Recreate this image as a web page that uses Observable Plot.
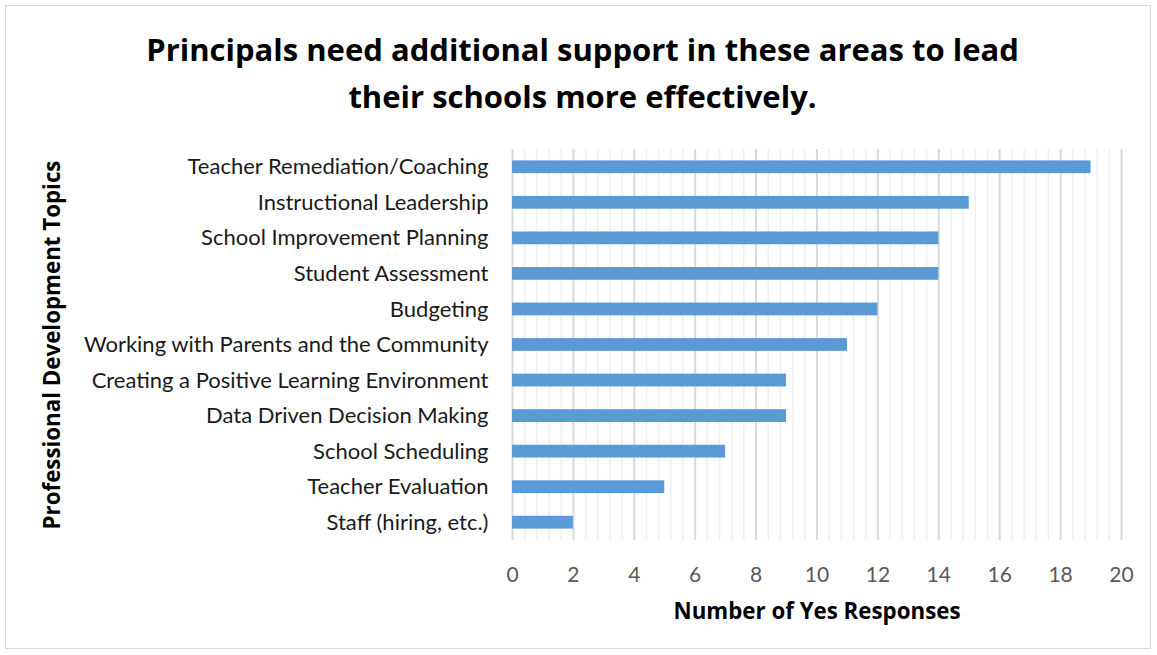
<!DOCTYPE html>
<html>
<head>
<meta charset="utf-8">
<script src="https://cdn.jsdelivr.net/npm/d3@7"></script>
<script src="https://cdn.jsdelivr.net/npm/@observablehq/plot@0.6"></script>
<style>
  html, body { margin: 0; padding: 0; background: #fff; }
  body { width: 1157px; height: 655px; position: relative; overflow: hidden; font-family: Lato, "Open Sans", sans-serif; }
  #frame { position: absolute; left: 5px; top: 5px; width: 1146px; height: 644px; border: 1.5px solid #d9d9d9; box-sizing: border-box; }
  #title { position: absolute; left: 0; top: 26px; width: 1165px; text-align: center; font-family: "Open Sans", Lato, sans-serif; font-weight: bold; font-size: 31px; line-height: 47px; color: #000; }
  #chart { position: absolute; left: 0; top: 140px; line-height: 0; }
  #chart svg { display: block; }
</style>
</head>
<body>
<div id="frame"></div>
<div id="title">Principals need additional support in these areas to lead<br>their schools more effectively.</div>
<div id="chart"></div>
<script>
const topics = [
  "Teacher Remediation/Coaching",
  "Instructional Leadership",
  "School Improvement Planning",
  "Student Assessment",
  "Budgeting",
  "Working with Parents and the Community",
  "Creating a Positive Learning Environment",
  "Data Driven Decision Making",
  "School Scheduling",
  "Teacher Evaluation",
  "Staff (hiring, etc.)"
];
const responses = [19, 15, 14, 14, 12, 11, 9, 9, 7, 5, 2];
const xTicks = [0, 2, 4, 6, 8, 10, 12, 14, 16, 18, 20];

const data = topics.map((t, i) => ({topic: t, value: responses[i]}));
const minorTicks = d3.range(0, 50).map(i => i * 0.4).filter(v => Math.abs(v / 2 - Math.round(v / 2)) > 1e-6);

const chart = Plot.plot({
  width: 1157,
  height: 500,
  marginLeft: 512,
  marginRight: 36,
  marginTop: 9,
  marginBottom: 100,
  style: {fontFamily: "Lato, 'Open Sans', sans-serif", background: "transparent"},
  x: {domain: [0, 20], ticks: xTicks},
  y: {domain: topics, paddingInner: 0.64, paddingOuter: 0.32, round: false},
  marks: [
    Plot.ruleX(minorTicks, {stroke: "#efefef", strokeWidth: 1.5}),
    Plot.ruleX(xTicks, {stroke: "#d9d9d9", strokeWidth: 2}),
    Plot.barX(data, {x: "value", y: "topic", fill: "#5b9bd5"}),
    Plot.axisX({ticks: xTicks, tickSize: 0, tickPadding: 27, fontSize: 21, color: "#595959",
      label: "Number of Yes Responses", labelAnchor: "center", labelArrow: "none", labelOffset: 78}),
    Plot.axisY({tickSize: 0, tickPadding: 24, fontSize: 22, color: "#1a1a1a",
      label: "Professional Development Topics", labelAnchor: "center", labelArrow: "none", labelOffset: 468})
  ]
});
chart.querySelectorAll("[aria-label='x-axis label'], [aria-label='y-axis label']").forEach(g => {
  g.setAttribute("font-weight", "bold");
  g.setAttribute("font-size", "22.3");
  g.setAttribute("font-family", "'Open Sans', Lato, sans-serif");
  g.setAttribute("fill", "#000");
  g.style.color = "#000";
});
document.getElementById("chart").appendChild(chart);
</script>
</body>
</html>
